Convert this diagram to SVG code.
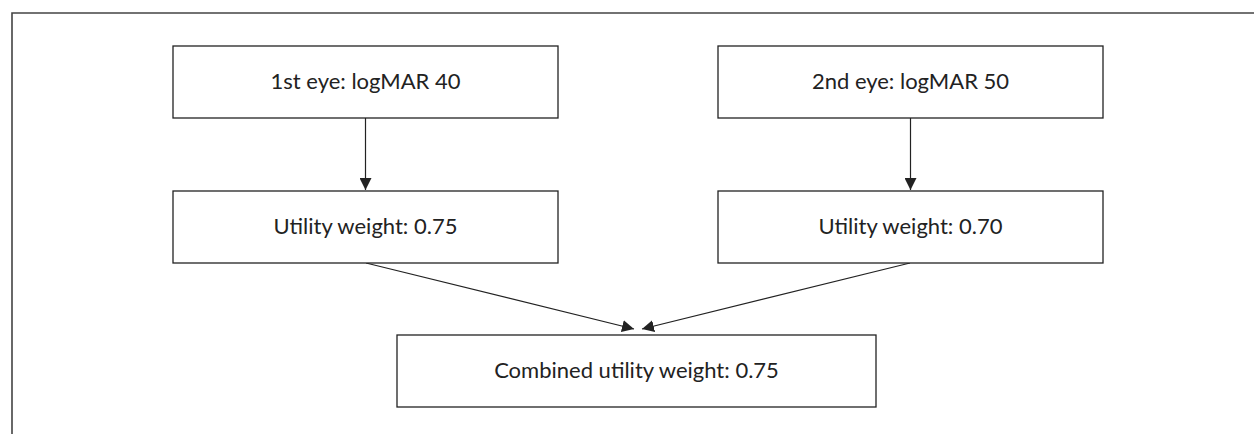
<svg xmlns="http://www.w3.org/2000/svg" width="1254" height="434" viewBox="0 0 1254 434">
<style>
.box{fill:#fff;stroke:#222;stroke-width:1.3}
.lbl{font-family:Lato,"Open Sans","Liberation Sans",sans-serif;font-size:22px;fill:#222;text-anchor:middle}
.con{stroke:#222;stroke-width:1.2;fill:none;marker-end:url(#ah)}
.frame{stroke:#444;stroke-width:1.6;fill:none}
</style>
<defs>
<marker id="ah" viewBox="0 0 10 10" refX="10" refY="5" markerWidth="12" markerHeight="12" markerUnits="userSpaceOnUse" orient="auto">
<path d="M0,0 L10,5 L0,10 z" fill="#222"/>
</marker>
</defs>
<rect width="1254" height="434" fill="#fff"/>
<path class="frame" d="M12,434 V13 H1254"/>
<g id="connectors">
<line class="con" x1="365.5" y1="118" x2="365.5" y2="190"/>
<line class="con" x1="910.5" y1="118" x2="910.5" y2="190"/>
<line class="con" x1="366" y1="263" x2="634" y2="329"/>
<line class="con" x1="910" y1="263" x2="642" y2="329"/>
</g>
<g id="eye1">
<rect class="box" x="173" y="46" width="385" height="72"/>
<text class="lbl" x="365.5" y="89">1st eye: logMAR 40</text>
</g>
<g id="eye2">
<rect class="box" x="718" y="46" width="385" height="72"/>
<text class="lbl" x="910.5" y="89">2nd eye: logMAR 50</text>
</g>
<g id="util1">
<rect class="box" x="173" y="191" width="385" height="72"/>
<text class="lbl" x="365.5" y="234">Utility weight: 0.75</text>
</g>
<g id="util2">
<rect class="box" x="718" y="191" width="385" height="72"/>
<text class="lbl" x="910.5" y="234">Utility weight: 0.70</text>
</g>
<g id="combined">
<rect class="box" x="397" y="335" width="479" height="72"/>
<text class="lbl" x="636.5" y="378">Combined utility weight: 0.75</text>
</g>
</svg>
